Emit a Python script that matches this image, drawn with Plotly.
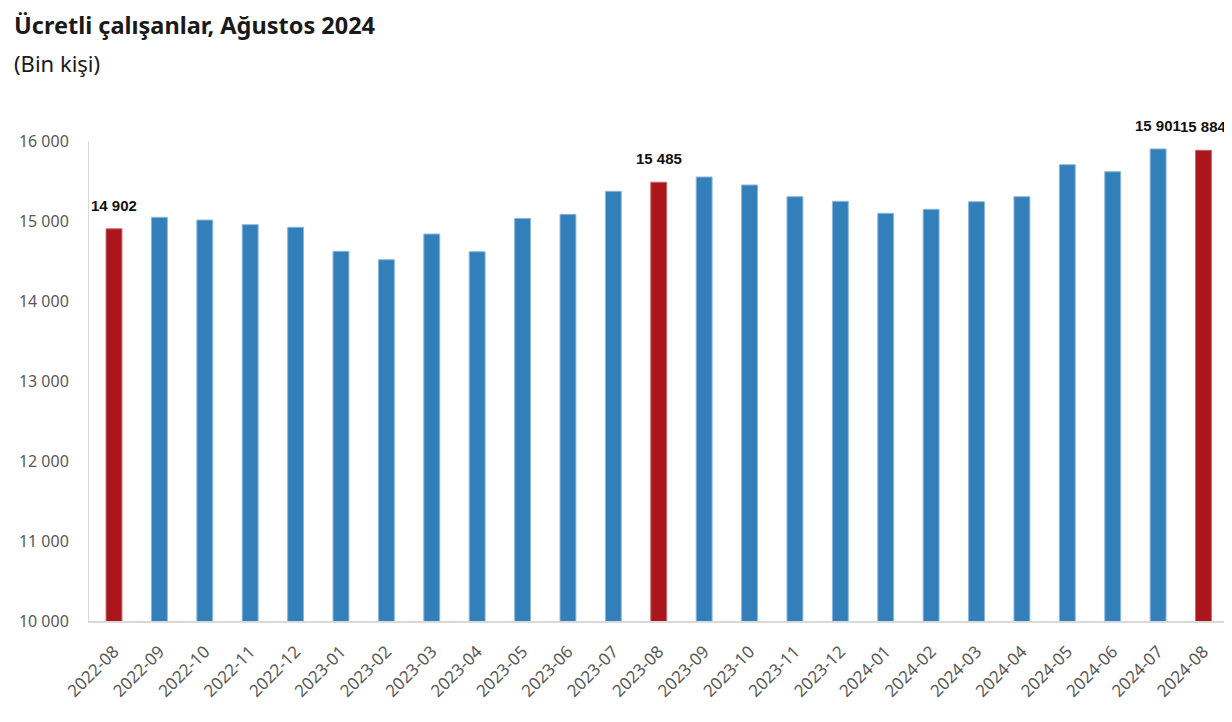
import plotly.graph_objects as go

categories = ["2022-08", "2022-09", "2022-10", "2022-11", "2022-12",
              "2023-01", "2023-02", "2023-03", "2023-04", "2023-05", "2023-06",
              "2023-07", "2023-08", "2023-09", "2023-10", "2023-11", "2023-12",
              "2024-01", "2024-02", "2024-03", "2024-04", "2024-05", "2024-06",
              "2024-07", "2024-08"]
values = [14902, 15046, 15012, 14954, 14921,
          14621, 14516, 14837, 14616, 15033, 15083,
          15371, 15485, 15550, 15450, 15304, 15246,
          15096, 15146, 15241, 15304, 15704, 15616,
          15901, 15884]
highlighted = ["2022-08", "2023-08", "2024-08"]
labelled = ["2022-08", "2023-08", "2024-07", "2024-08"]
y_ticks = [10000, 11000, 12000, 13000, 14000, 15000, 16000]

BLUE = "#337fba"
RED = "#ab151c"

colors = [RED if c in highlighted else BLUE for c in categories]
edge = ["#c56a6e" if c in highlighted else "#8ab7dc" for c in categories]

def fmt(v):
    return f"{v:,}".replace(",", " ")

fig = go.Figure()
fig.add_trace(go.Bar(
    x=categories, y=values,
    marker=dict(color=colors, line=dict(color=edge, width=1)),
    hoverinfo="x+y",
))

annotations = []
for c, v in zip(categories, values):
    if c in labelled:
        annotations.append(dict(
            x=c, y=v, xref="x", yref="y", text="<b>" + fmt(v) + "</b>", showarrow=False,
            yanchor="bottom", yshift=13,
            font=dict(family="Liberation Sans, Arial", size=15, color="#111111"),
        ))

annotations.append(dict(
    x=-0.0675, y=1.2417, xref="paper", yref="paper", xanchor="left", yanchor="middle",
    text="<b>Ücretli çalışanlar, Ağustos 2024</b>", showarrow=False,
    font=dict(family="Noto Sans", size=23.5, color="#1a1a1a"),
))
annotations.append(dict(
    x=-0.0675, y=1.1625, xref="paper", yref="paper", xanchor="left", yanchor="middle",
    text="(Bin kişi)", showarrow=False,
    font=dict(family="Noto Sans", size=22, color="#1a1a1a"),
))

fig.update_layout(
    width=1224, height=714,
    margin=dict(l=81, r=3, t=133, b=101),
    paper_bgcolor="white", plot_bgcolor="white",
    bargap=0.65,
    showlegend=False,
    separators=", ",
    annotations=annotations,
    xaxis=dict(
        type="category", tickangle=-45, showgrid=False,
        showline=True, linecolor="#d9d9d9", linewidth=2,
        ticks="", ticklabelstandoff=12,
        tickfont=dict(family="Noto Sans", size=17, color="#595959"),
    ),
    yaxis=dict(
        range=[10000, 16000], tickvals=y_ticks, tickformat=",d",
        showgrid=False, zeroline=False,
        showline=True, linecolor="#d9d9d9", linewidth=1,
        ticks="", ticklabelstandoff=16,
        tickfont=dict(family="Noto Sans", size=16, color="#595959"),
    ),
)

fig.write_html("out.html")
